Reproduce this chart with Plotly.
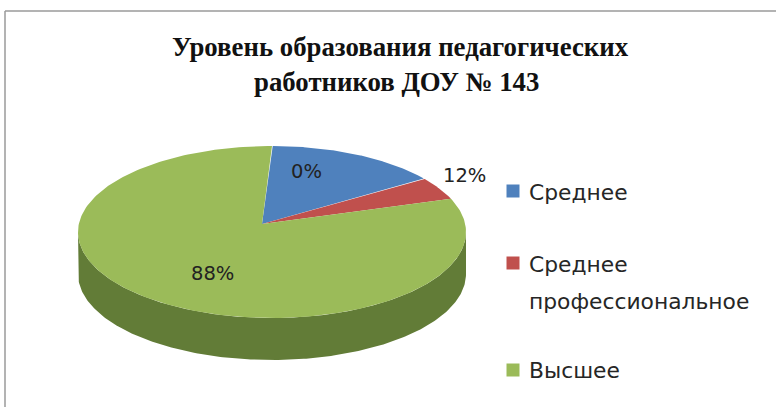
import numpy as np
import plotly.graph_objects as go

categories = ["Среднее", "Среднее профессиональное", "Высшее"]
slice_shares = [14.3, 4.4, 81.3]      # visible share of the pie drawn for each category
slice_labels = ["0%", "12%", "88%"]   # labels as printed on the chart
top_colors = ["#4F81BD", "#C0504D", "#9BBB59"]
wall_colors = ["#3A618F", "#8F3B39", "#627C37"]

W, H = 776, 407
CX, CY, A, B = 272, 232, 194, 86
APEX = (262, 224)
DEPTH = 42


def rim(t):
    return CX + A * np.sin(t), CY - B * np.cos(t)


fig = go.Figure()
edges = np.concatenate([[0], np.cumsum(slice_shares)]) / np.sum(slice_shares) * 2 * np.pi

# walls first (only the front half of the pie is visible)
for i, name in enumerate(categories):
    lo, hi = max(edges[i], np.pi / 2), min(edges[i + 1], 3 * np.pi / 2)
    if hi > lo:
        t = np.linspace(lo, hi, 240)
        x, y = rim(t)
        fig.add_trace(go.Scatter(
            x=np.concatenate([x, x[::-1]]),
            y=np.concatenate([y, y[::-1] + DEPTH]),
            fill="toself", mode="lines", line=dict(width=0),
            fillcolor=wall_colors[i], hoverinfo="skip", showlegend=False))

# top faces
for i, name in enumerate(categories):
    t = np.linspace(edges[i], edges[i + 1], 240)
    x, y = rim(t)
    fig.add_trace(go.Scatter(
        x=np.concatenate([[APEX[0]], x, [APEX[0]]]),
        y=np.concatenate([[APEX[1]], y, [APEX[1]]]),
        fill="toself", mode="lines", line=dict(width=0),
        fillcolor=top_colors[i], name=name, hoverinfo="name", showlegend=False))

# legend swatches
legend_y = [191, 263, 370]
fig.add_trace(go.Scatter(
    x=[513] * 3, y=legend_y, mode="markers",
    marker=dict(symbol="square", size=13, color=top_colors),
    hoverinfo="skip", showlegend=False))

annotations = []
def text(x, y, s, size, family="DejaVu Sans", color="#262626", anchor="left"):
    annotations.append(dict(x=x, y=y, xref="x", yref="y", text=s, showarrow=False,
                            xanchor=anchor, yanchor="middle",
                            font=dict(family=family, size=size, color=color)))

text(400, 47, "<b>Уровень образования педагогических</b>", 26.8, "Liberation Serif", "#111111", "center")
text(396, 82, "<b>работников ДОУ № 143</b>", 26.8, "Liberation Serif", "#111111", "center")

for (x, y), s in zip([(306, 171), (464, 175), (212, 273)], slice_labels):
    text(x, y, s, 19.5, color="#222222", anchor="center")

text(527, 192, "Среднее", 21.8)
text(527, 264, "Среднее", 21.8)
text(527, 301, "профессиональное", 21.8)
text(527, 370, "Высшее", 21.8)

fig.update_layout(
    width=W, height=H, margin=dict(l=0, r=0, t=0, b=0),
    paper_bgcolor="white", plot_bgcolor="white",
    xaxis=dict(range=[0, W], visible=False),
    yaxis=dict(range=[H, 0], visible=False),
    annotations=annotations,
    shapes=[
        dict(type="line", xref="x", yref="y", x0=5, x1=W, y0=11, y1=11, line=dict(color="#9a9a9a", width=1.5)),
        dict(type="line", xref="x", yref="y", x0=5, x1=5, y0=11, y1=H, line=dict(color="#9a9a9a", width=1.5)),
    ],
)
fig.write_html("out.html", config={"displayModeBar": False},
               post_script="document.body.style.margin='0';document.body.style.overflow='hidden';")
